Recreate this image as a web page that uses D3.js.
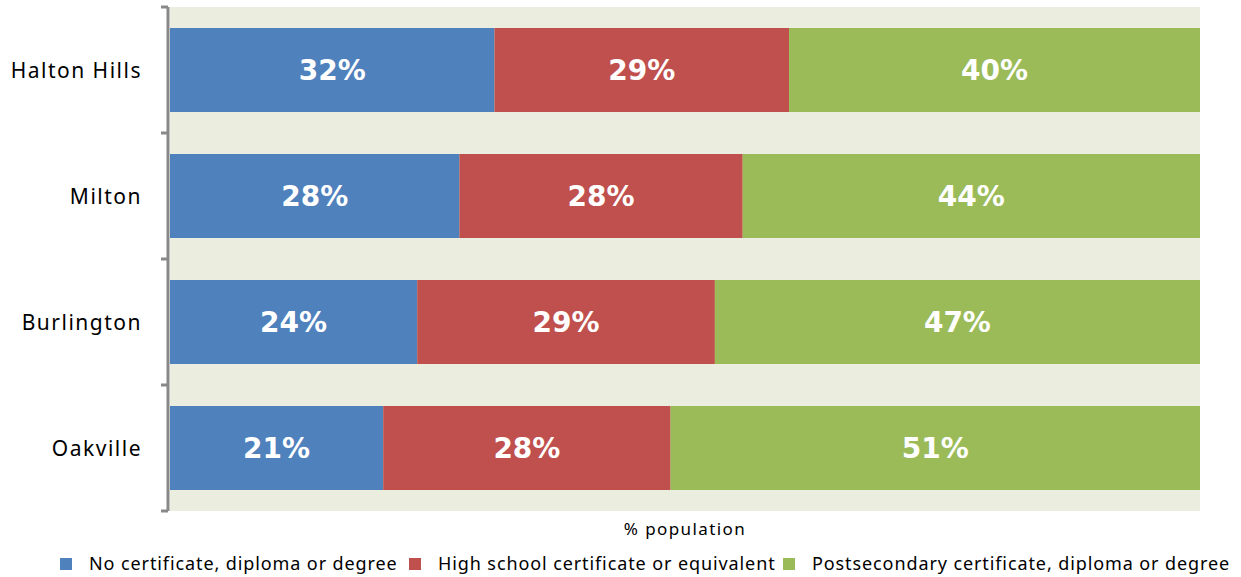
<!DOCTYPE html>
<html lang="en">
<head>
<meta charset="utf-8">
<style>
  body { margin: 0; background: #fff; }
  text { font-family: "Noto Sans", "Open Sans", sans-serif; }
  text.val { font-family: "DejaVu Sans", sans-serif; }
</style>
<title>Education by municipality</title>
</head>
<body>
<div id="chart"></div>
<script src="https://d3js.org/d3.v7.min.js"></script>
<script>
// data (percent of population)
const places = ["Halton Hills", "Milton", "Burlington", "Oakville"];
const noCert = [31.5, 28.1, 24.0, 20.7];
const highSchool = [28.6, 27.5, 28.9, 27.9];
const postSec = [39.9, 44.4, 47.1, 51.4];
const seriesNames = ["No certificate, diploma or degree", "High school certificate or equivalent", "Postsecondary certificate, diploma or degree"];
const colors = ["#4F81BD", "#C0504D", "#9BBB59"];

const w = 1241, h = 577;
const plotL = 170, plotR = 1200, plotT = 7, plotB = 511;

const svg = d3.select("#chart").append("svg")
    .attr("width", w)
    .attr("height", h);

const rows = places.map((p, i) => ({ place: p, v: [noCert[i], highSchool[i], postSec[i]] }));

const x = d3.scaleLinear().domain([0, 100]).range([plotL, plotR]);
const y = d3.scaleBand().domain(places).range([plotT, plotB]).paddingInner(1 / 3).paddingOuter(1 / 6);

svg.append("rect")
    .attr("x", plotL).attr("y", plotT)
    .attr("width", plotR - plotL).attr("height", plotB - plotT)
    .attr("fill", "#EBEEDE");

const stack = d3.stack().keys([0, 1, 2]).value((d, k) => d.v[k]);
const layers = stack(rows);

const g = svg.selectAll("g.layer").data(layers).enter().append("g")
    .attr("class", "layer")
    .attr("fill", (d, i) => colors[i]);

g.selectAll("rect").data(d => d).enter().append("rect")
    .attr("x", d => x(d[0]))
    .attr("y", d => y(d.data.place))
    .attr("width", d => x(d[1]) - x(d[0]))
    .attr("height", y.bandwidth());

g.selectAll("text").data(d => d).enter().append("text")
    .attr("class", "val")
    .attr("x", d => (x(d[0]) + x(d[1])) / 2)
    .attr("y", d => y(d.data.place) + y.bandwidth() / 2)
    .attr("dy", "0.36em")
    .attr("text-anchor", "middle")
    .attr("fill", "#fff")
    .attr("font-weight", "bold")
    .attr("font-size", 28)
    .text(d => Math.round(d[1] - d[0]) + "%");

// category axis with outer-band ticks
const step = y.step();
const axis = svg.append("g").attr("stroke", "#888").attr("stroke-width", 3);
axis.append("line").attr("x1", plotL - 2).attr("x2", plotL - 2).attr("y1", plotT).attr("y2", plotB);
d3.range(places.length + 1).forEach(i => {
    const yy = plotT + i * step;
    axis.append("line").attr("x1", plotL - 9).attr("x2", plotL - 2).attr("y1", yy).attr("y2", yy);
});

svg.selectAll("text.cat").data(places).enter().append("text")
    .attr("class", "cat")
    .attr("x", 142)
    .attr("y", d => y(d) + y.bandwidth() / 2)
    .attr("dy", "0.36em")
    .attr("text-anchor", "end")
    .attr("font-size", 21)
    .attr("letter-spacing", 1.5)
    .attr("fill", "#000")
    .text(d => d);

svg.append("text")
    .attr("x", (plotL + plotR) / 2)
    .attr("y", 535)
    .attr("text-anchor", "middle")
    .attr("font-size", 17)
    .attr("letter-spacing", 1.4)
    .text("% population");

// legend
const legX = [60, 409, 783];
const lg = svg.selectAll("g.leg").data(seriesNames).enter().append("g")
    .attr("class", "leg")
    .attr("transform", (d, i) => `translate(${legX[i]},558)`);
lg.append("rect").attr("width", 12).attr("height", 12).attr("fill", (d, i) => colors[i]);
lg.append("text")
    .attr("x", 29).attr("y", 6).attr("dy", "0.36em")
    .attr("font-size", 18)
    .attr("letter-spacing", 0.9)
    .text(d => d);
</script>
</body>
</html>
